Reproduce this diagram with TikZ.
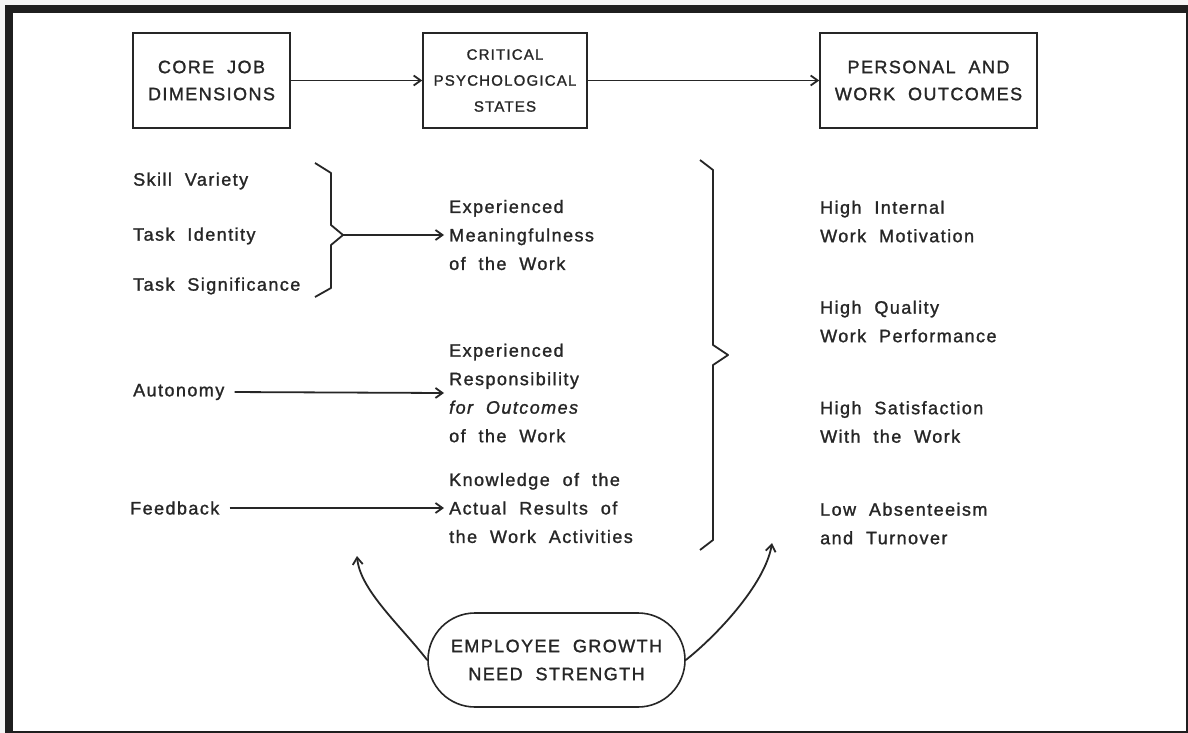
\documentclass[tikz,border=0pt]{standalone}
\usepackage{fontspec}
\setmainfont{Liberation Sans}[LetterSpace=8,WordSpace=2.0,FakeBold=1.3]
\usetikzlibrary{arrows.meta}
\begin{document}
\begin{tikzpicture}[x=1pt,y=-1pt,
  lbl/.style={font=\fontsize{18}{28.5}\selectfont, align=left, inner sep=0pt, text=black!85},
  boxnode/.style={draw=black!85, line width=1.6pt, minimum height=95pt, inner sep=0pt, align=center, font=\fontsize{18}{27}\selectfont, text=black!85},
  arr/.style={draw=black!85, line width=1.8pt, -{Straight Barb[length=7pt,width=10pt]}},
  brace/.style={draw=black!85, line width=1.8pt, line join=round}
]
\useasboundingbox (0,0) rectangle (1188,733);
\fill[gray!8] (0,0) rectangle (1188,733);
\fill[black!88] (5,5) rectangle (1188,733);
\fill[white] (13,13) rectangle (1186,731);

% top boxes
\node[boxnode, minimum width=157pt] (cjd) at (211.5,80.5) {CORE JOB\\DIMENSIONS};
\node[boxnode, minimum width=164pt, font=\fontsize{15}{26}\selectfont] (cps) at (505,80.5) {CRITICAL\\PSYCHOLOGICAL\\STATES};
\node[boxnode, minimum width=217pt] (pwo) at (928.5,80.5) {PERSONAL AND\\WORK OUTCOMES};
\draw[arr] (cjd) -- (cps);
\draw[arr] (cps) -- (pwo);

% left column
\node[lbl, anchor=west] (sv) at (133,181) {Skill Variety};
\node[lbl, anchor=west] (ti) at (133,236) {Task Identity};
\node[lbl, anchor=west] (ts) at (133,286) {Task Significance};
\node[lbl, anchor=west, inner xsep=5pt] (aut) at (128,392) {Autonomy};
\node[lbl, anchor=west, inner xsep=5pt] (fb) at (125,508) {Feedback};

% middle column
\node[lbl, anchor=west, inner xsep=5pt] (emw) at (444,235) {Experienced\\Meaningfulness\\of the Work};
\node[lbl, anchor=west, inner xsep=5pt] (erw) at (444,393) {Experienced\\Responsibility\\\textit{for Outcomes}\\of the Work};
\node[lbl, anchor=west, inner xsep=5pt] (kar) at (444,508) {Knowledge of the\\Actual Results of\\the Work Activities};

% right column
\node[lbl, anchor=west] (o1) at (820,221.5) {High Internal\\Work Motivation};
\node[lbl, anchor=west] (o2) at (820,321.5) {High Quality\\Work Performance};
\node[lbl, anchor=west] (o3) at (820,422) {High Satisfaction\\With the Work};
\node[lbl, anchor=west] (o4) at (820,523.5) {Low Absenteeism\\and Turnover};

% braces
\coordinate (bt1) at (343,235);
\draw[brace] (315,163) -- (331,173) -- (331,225) -- (bt1) -- (331,245) -- (331,288) -- (315,297);
\draw[brace] (700,160) -- (713,170) -- (713,345) -- (728,355) -- (713,365) -- (713,540) -- (700,550);

\draw[arr] (bt1) -- (emw.west);
\draw[arr, shorten <=5pt] (aut.east) -- (erw.west);
\draw[arr, shorten <=5pt] (fb.east) -- (kar.west);

% growth need strength
\node[draw=black!85, line width=1.6pt, rounded corners=47pt, minimum width=257pt, minimum height=94pt,
  inner sep=0pt, align=center, font=\fontsize{18}{28}\selectfont, text=black!85] (gns) at (556.5,660)
  {EMPLOYEE GROWTH\\NEED STRENGTH};
\coordinate (t1) at (357,556);
\coordinate (t2) at (772,543);
\draw[arr] (gns.west) .. controls (400,625) and (360,590) .. (t1);
\draw[arr] (gns.east) .. controls (715,637) and (765,585) .. (t2);
\end{tikzpicture}
\end{document}
